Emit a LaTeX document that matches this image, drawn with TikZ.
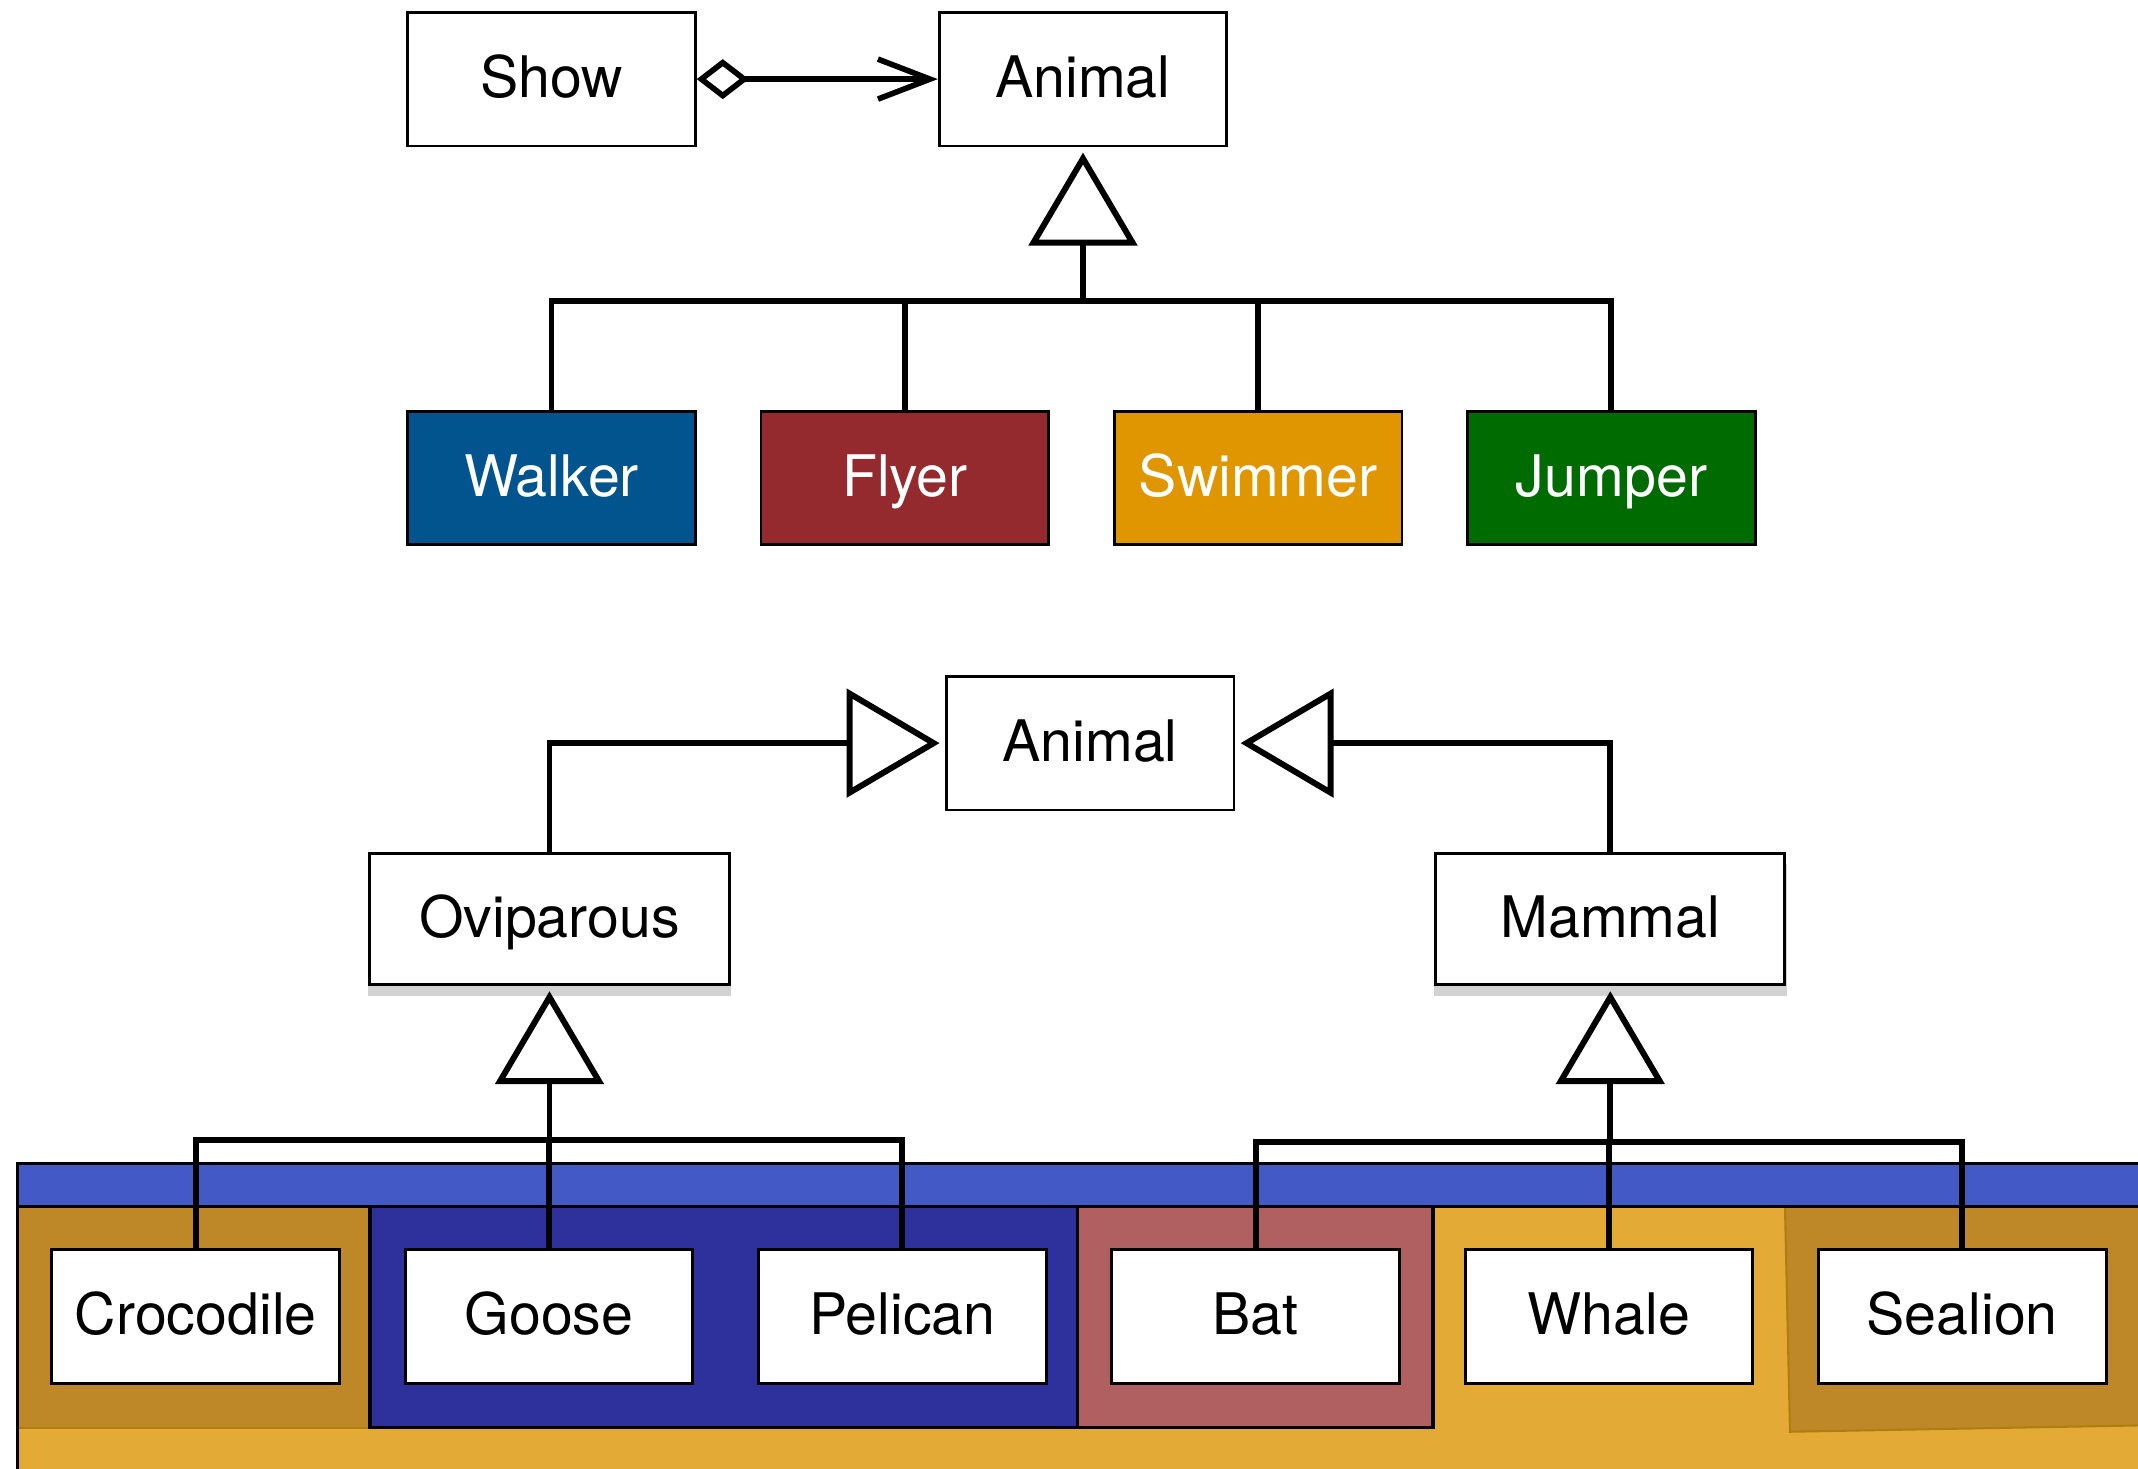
\documentclass[tikz,border=0pt]{standalone}
\usepackage{fontspec}
\setmainfont{TeX Gyre Heros}
\usepackage{xcolor}
\usepackage{tikz}
\usetikzlibrary{arrows.meta,positioning,shadows}

\definecolor{walkerblue}{HTML}{02548F}
\definecolor{flyerred}{HTML}{942A2E}
\definecolor{swimorange}{HTML}{E09600}
\definecolor{jumpgreen}{HTML}{006B00}
\definecolor{zonegold}{HTML}{E3AA35}
\definecolor{zonedark}{HTML}{BE8828}
\definecolor{zoneband}{HTML}{435AC6}
\definecolor{zonenavy}{HTML}{2E319B}
\definecolor{zonered}{HTML}{B06061}
\definecolor{zonerim}{HTML}{B07D10}

\begin{document}
\begin{tikzpicture}[
    node distance=0.628cm,
    font=\fontsize{16.3}{19}\selectfont,
    box/.style={rectangle, draw, line width=0.8pt, fill=white, inner sep=0pt, text height=12pt, text depth=1.6pt, minimum width=2.877cm, minimum height=1.336cm},
    colbox/.style={box, fill=#1, text=white},
    shadbox/.style={box, minimum height=1.31cm, drop shadow={shadow xshift=0pt, shadow yshift=-3pt, shadow scale=1.01, fill=black!35, opacity=0.5}},
    line/.style={line width=1.7pt},
    inherit/.style={line width=1.7pt, -{Triangle[open, length=0.93cm, width=1.08cm]}, shorten >=1.5pt},
    aggr/.style={line width=1.6pt, {Diamond[open, length=0.52cm, width=0.40cm]}-{Straight Barb[length=0.52cm, width=0.40cm]}},
    edge/.style={line width=0.9pt}
]
    \useasboundingbox (0,0) rectangle (21.38,-14.68);

    % zones behind the bottom row
    \fill[zonegold] (0.177,-11.631) rectangle (21.6,-14.9);
    \fill[zoneband] (0.177,-11.631) rectangle (21.6,-12.067);
    \fill[zonedark] (0.177,-12.067) rectangle (3.70,-14.276);
    \draw[zonerim, line width=0.6pt] (0.177,-14.276) -- (3.70,-14.276);
    \filldraw[fill=zonenavy, edge] (3.70,-12.067) rectangle (10.772,-14.276);
    \filldraw[fill=zonered, edge] (10.772,-12.067) rectangle (14.33,-14.276);
    \filldraw[fill=zonedark, draw=zonerim, line width=0.6pt] (17.85,-12.067) -- (17.9,-14.317) -- (21.6,-14.25) -- (21.6,-12.067) -- cycle;
    \draw[edge] (0.177,-14.9) -- (0.177,-11.631) -- (21.6,-11.631);
    \draw[edge] (0.177,-12.067) -- (3.70,-12.067) -- (3.70,-14.276);
    \draw[edge] (10.772,-12.067) -- (21.6,-12.067);

    % top diagram
    \node (show) [box] at (5.515,-0.791) {Show};
    \node (animA) [box, right=2.41cm of show] {Animal};
    \node (walker) [colbox=walkerblue] at (5.515,-4.779) {Walker};
    \node (flyer) [colbox=flyerred, right=of walker] {Flyer};
    \node (swimmer) [colbox=swimorange, right=of flyer] {Swimmer};
    \node (jumper) [colbox=jumpgreen, right=of swimmer] {Jumper};
    \coordinate (j1) at ([yshift=-1.54cm]animA.south);

    \draw [aggr] (show.east) -- (animA.west);
    \draw [line] (walker.north) |- (j1);
    \draw [line] (flyer.north) |- (j1);
    \draw [line] (swimmer.north) |- (j1);
    \draw [line] (jumper.north) |- (j1);
    \draw [inherit] (j1) -- (animA.south);

    % bottom diagram
    \node (animB) [box] at (10.901,-7.431) {Animal};
    \node (ovip) [shadbox, minimum width=3.60cm] at (5.495,-9.190) {Oviparous};
    \node (mammal) [shadbox, minimum width=3.49cm] at (16.103,-9.190) {Mammal};
    \node (croc) [box] at (1.957,-13.165) {Crocodile};
    \node (goose) [box, right=of croc] {Goose};
    \node (pelican) [box, right=of goose] {Pelican};
    \node (bat) [box, right=of pelican] {Bat};
    \node (whale) [box, right=of bat] {Whale};
    \node (sealion) [box, right=of whale] {Sealion};
    \coordinate (j2) at ([yshift=-1.54cm]ovip.south);
    \coordinate (j3) at ([yshift=-1.56cm]mammal.south);

    \draw [inherit] (ovip.north) |- (animB.west);
    \draw [inherit] (mammal.north) |- (animB.east);
    \draw [line] (croc.north) |- (j2);
    \draw [line] (goose.north) |- (j2);
    \draw [line] (pelican.north) |- (j2);
    \draw [inherit] (j2) -- (ovip.south);
    \draw [line] (bat.north) |- (j3);
    \draw [line] (whale.north) |- (j3);
    \draw [line] (sealion.north) |- (j3);
    \draw [inherit] (j3) -- (mammal.south);
\end{tikzpicture}
\end{document}
